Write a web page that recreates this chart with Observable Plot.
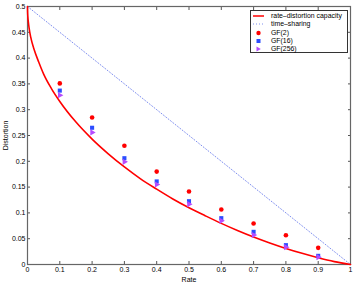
<!DOCTYPE html>
<html><head><meta charset="utf-8">
<script src="https://cdn.jsdelivr.net/npm/d3@7"></script>
<script src="https://cdn.jsdelivr.net/npm/@observablehq/plot@0.6"></script>
<style>
body{margin:0;background:#fff;font-family:"Liberation Sans",Arial,sans-serif;}
#wrap{position:relative;width:357px;height:284px;}
#legend{position:absolute;left:250px;top:10px;width:98px;height:43px;border:1px solid #333;background:#fff;box-sizing:border-box;font-size:6.9px;color:#000;}
#legend .row{position:absolute;left:0;height:8px;line-height:8px;}
#legend svg{position:absolute;left:1px;top:0;}
#legend span{position:absolute;left:20px;white-space:nowrap;}
</style></head>
<body><div id="wrap"></div>
<script>
// Rate-distortion capacity curve
const curveRate = [0,0.0002,0.001,0.003,0.005,0.01,0.02,0.035,0.05,0.075,0.1,0.15,0.2,0.25,0.3,0.35,0.4,0.45,0.5,0.55,0.6,0.65,0.7,0.75,0.8,0.85,0.9,0.95,1];
const curveDist = [0.5,0.492,0.481,0.468,0.458,0.4405,0.4175,0.392,0.369,0.340,0.316,0.276,0.243,0.2145,0.189,0.166,0.146,0.127,0.110,0.0946,0.0797,0.0659,0.0532,0.0417,0.0311,0.0216,0.0130,0.0056,0];
// Time-sharing line
const tsRate = [0,1];
const tsDist = [0.5,0];
// Simulated codes
const codeRate = [0.1,0.2,0.3,0.4,0.5,0.6,0.7,0.8,0.9];
const gf2   = [0.351,0.285,0.230,0.180,0.1415,0.1066,0.0795,0.0568,0.0323];
const gf16  = [0.337,0.265,0.206,0.161,0.1227,0.0898,0.0633,0.0375,0.0168];
const gf256 = [0.328,0.256,0.199,0.155,0.117,0.0846,0.057,0.0336,0.0142];
const xTicks = [0,0.1,0.2,0.3,0.4,0.5,0.6,0.7,0.8,0.9,1];
const yTicks = [0,0.05,0.1,0.15,0.2,0.25,0.3,0.35,0.4,0.45,0.5];
const legendLabels = ["rate\u2013distortion capacity","time\u2013sharing","GF(2)","GF(16)","GF(256)"];

const curve = curveRate.map((r,i)=>({r, d:curveDist[i]}));
const ts = tsRate.map((r,i)=>({r, d:tsDist[i]}));
const pts = (arr)=>codeRate.map((r,i)=>({r, d:arr[i]}));

const fmt = d => d === 0 ? "0" : d === 1 ? "1" : String(d);

const chart = Plot.plot({
  width:357, height:284,
  marginLeft:27, marginRight:7, marginTop:6, marginBottom:20,
  style:{fontFamily:"Liberation Sans, Arial, sans-serif", fontSize:"7px", color:"#000", background:"#fff"},
  x:{domain:[0,1]},
  y:{domain:[0,0.5]},
  marks:[
    Plot.axisX({ticks:xTicks, tickSize:-3, tickPadding:6, tickFormat:fmt, label:"Rate", labelAnchor:"center", labelArrow:"none", labelOffset:17, stroke:"#555"}),
    Plot.axisX({anchor:"top", ticks:xTicks, tickSize:-3, tickFormat:()=>"", label:null, stroke:"#555"}),
    Plot.axisY({ticks:yTicks, tickSize:-3, tickPadding:5, tickFormat:fmt, label:"Distortion", labelAnchor:"center", labelArrow:"none", labelOffset:24, stroke:"#555"}),
    Plot.axisY({anchor:"right", ticks:yTicks, tickSize:-3, tickFormat:()=>"", label:null, stroke:"#555"}),
    Plot.frame({stroke:"#666", strokeWidth:1.2}),
    Plot.line(ts, {x:"r", y:"d", stroke:"#7f8fef", strokeWidth:1, strokeDasharray:"1,2"}),
    Plot.line(curve, {x:"r", y:"d", stroke:"#ff0000", strokeWidth:1.6, curve:"monotone-x"}),
    Plot.dot(pts(gf2), {x:"r", y:"d", fill:"#ff0000", r:2.3, symbol:"circle"}),
    Plot.dot(pts(gf16), {x:"r", y:"d", fill:"#2b4dff", r:2.3, symbol:"square"}),
    Plot.dot(pts(gf256), {x:"r", y:"d", fill:"#b54cff", r:2.3, symbol:"triangle", rotate:90})
  ]
});
const wrap = document.getElementById("wrap");
wrap.appendChild(chart);

// Legend
const leg = document.createElement("div");
leg.id = "legend";
const symbols = [
  '<line x1="1" y1="4" x2="12" y2="4" stroke="#ff0000" stroke-width="1.5"/>',
  '<line x1="1" y1="4" x2="12" y2="4" stroke="#7f8fef" stroke-width="1" stroke-dasharray="1,2"/>',
  '<circle cx="6.5" cy="4" r="2.2" fill="#ff0000"/>',
  '<rect x="4.5" y="2" width="4" height="4" fill="#2b4dff"/>',
  '<path d="M4.5,1.5 L8.8,4 L4.5,6.5 Z" fill="#b54cff"/>'
];
legendLabels.forEach((lab,i)=>{
  const row = document.createElement("div");
  row.className = "row";
  row.style.top = (1 + i*8.3) + "px";
  row.innerHTML = '<svg width="14" height="8">'+symbols[i]+'</svg><span>'+lab+'</span>';
  leg.appendChild(row);
});
wrap.appendChild(leg);
</script></body></html>
